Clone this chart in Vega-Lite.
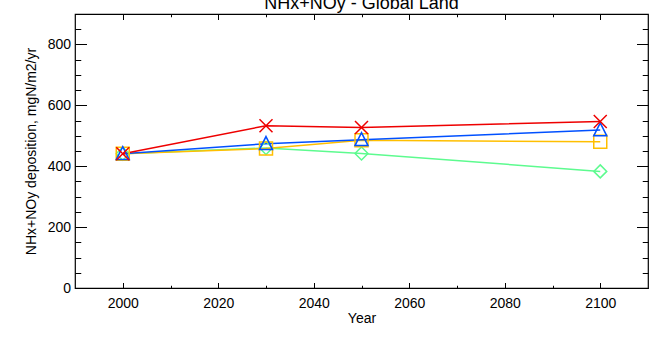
{
  "$schema": "https://vega.github.io/schema/vega-lite/v6.json",
  "width": 573,
  "height": 274,
  "autosize": {"type": "none"},
  "padding": {"left": 75, "top": 14, "right": 7, "bottom": 50},
  "background": "white",
  "title": {"text": "NHx+NOy - Global Land", "font": "Liberation Sans", "fontSize": 18, "fontWeight": "normal", "color": "black", "anchor": "middle", "baseline": "alphabetic", "offset": 0, "dy": 13.5},
  "config": {
    "view": {"stroke": "black", "strokeWidth": 1.2},
    "axis": {
      "domain": false, "grid": false, "tickColor": "black", "tickWidth": 1,
      "labelFont": "Liberation Sans", "labelFontSize": 14, "labelColor": "black",
      "titleFont": "Liberation Sans", "titleFontSize": 14, "titleFontWeight": "normal", "titleColor": "black",
      "labelOverlap": false, "labelFlush": false
    }
  },
  "data": {"values": [
    {"series": "a_green", "year": 2000, "value": 441},
    {"series": "a_green", "year": 2030, "value": 460},
    {"series": "a_green", "year": 2050, "value": 442},
    {"series": "a_green", "year": 2100, "value": 383},
    {"series": "b_yellow", "year": 2000, "value": 441},
    {"series": "b_yellow", "year": 2030, "value": 458},
    {"series": "b_yellow", "year": 2050, "value": 485},
    {"series": "b_yellow", "year": 2100, "value": 480},
    {"series": "c_blue", "year": 2000, "value": 441},
    {"series": "c_blue", "year": 2030, "value": 474},
    {"series": "c_blue", "year": 2050, "value": 487},
    {"series": "c_blue", "year": 2100, "value": 519},
    {"series": "d_red", "year": 2000, "value": 441},
    {"series": "d_red", "year": 2030, "value": 533},
    {"series": "d_red", "year": 2050, "value": 527},
    {"series": "d_red", "year": 2100, "value": 547}
  ]},
  "encoding": {
    "color": {"field": "series", "type": "nominal", "legend": null,
      "scale": {"domain": ["a_green", "b_yellow", "c_blue", "d_red"], "range": ["#5dfb8f", "#ffbf00", "#0050ff", "#ee0000"]}}
  },
  "layer": [
    {
      "mark": {"type": "line", "strokeWidth": 1.5},
      "encoding": {
        "x": {"field": "year", "type": "quantitative", "scale": {"domain": [1990, 2110], "nice": false, "zero": false},
          "axis": {"orient": "bottom", "title": "Year", "format": "d", "values": [2000, 2010, 2020, 2030, 2040, 2050, 2060, 2070, 2080, 2090, 2100],
            "tickSize": {"condition": {"test": "datum.value % 20 === 0", "value": -5.5}, "value": -2.75},
            "labelExpr": "datum.value % 20 === 0 ? datum.label : ''", "labelPadding": 14, "titlePadding": -2}},
        "y": {"field": "value", "type": "quantitative", "scale": {"domain": [0, 900], "nice": false, "zero": false},
          "axis": {"orient": "left", "title": "NHx+NOy deposition, mgN/m2/yr", "format": "d", "values": [0, 50, 100, 150, 200, 250, 300, 350, 400, 450, 500, 550, 600, 650, 700, 750, 800, 850],
            "tickSize": {"condition": {"test": "datum.value % 200 === 0", "value": -11.5}, "value": -5.75},
            "labelExpr": "datum.value % 200 === 0 ? datum.label : ''", "labelPadding": 16, "titlePadding": 9}}
      }
    },
    {
      "mark": {"type": "point", "filled": false, "strokeWidth": 1.5, "size": 169, "opacity": 1},
      "encoding": {
        "x": {"field": "year", "type": "quantitative", "scale": {"domain": [1990, 2110], "nice": false, "zero": false},
          "axis": {"orient": "top", "title": null, "labels": false, "values": [2000, 2010, 2020, 2030, 2040, 2050, 2060, 2070, 2080, 2090, 2100],
            "tickSize": {"condition": {"test": "datum.value % 20 === 0", "value": -5.5}, "value": -2.75}}},
        "y": {"field": "value", "type": "quantitative", "scale": {"domain": [0, 900], "nice": false, "zero": false},
          "axis": {"orient": "right", "title": null, "labels": false, "values": [0, 50, 100, 150, 200, 250, 300, 350, 400, 450, 500, 550, 600, 650, 700, 750, 800, 850],
            "tickSize": {"condition": {"test": "datum.value % 200 === 0", "value": -11.5}, "value": -5.75}}},
        "shape": {"field": "series", "type": "nominal", "legend": null,
          "scale": {"domain": ["a_green", "b_yellow", "c_blue", "d_red"],
            "range": ["M0,-1L1,0L0,1L-1,0Z", "M-1,-1H1V1H-1Z", "M0,-1.1L1,0.9H-1Z", "M-1,-1L1,1M1,-1L-1,1"]}}
      }
    }
  ],
  "resolve": {"axis": {"x": "independent", "y": "independent"}}
}
